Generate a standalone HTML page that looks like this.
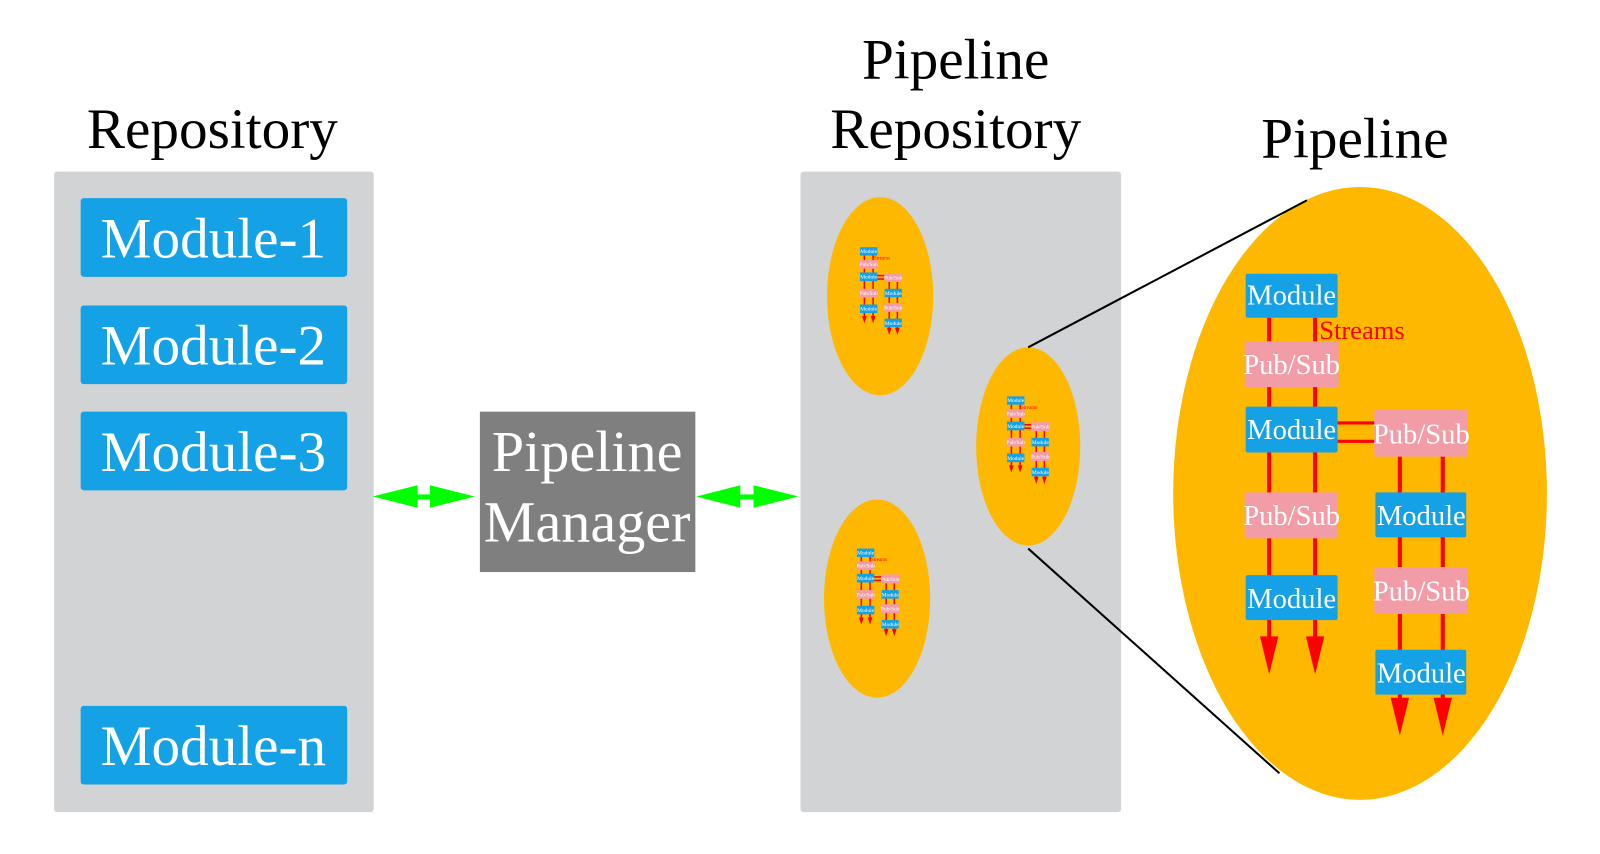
<!DOCTYPE html>
<html><head><meta charset="utf-8"><style>
html,body{margin:0;padding:0;background:#fff;width:1600px;height:854px;overflow:hidden}
svg{display:block}
text{font-family:"Liberation Serif",serif}
</style></head><body>
<svg width="1600" height="854" viewBox="0 0 1567 836" preserveAspectRatio="none" xmlns="http://www.w3.org/2000/svg">
<text x="208" y="145" font-size="56" text-anchor="middle" fill="#000">Repository</text>
<text x="936" y="77" font-size="56" text-anchor="middle" fill="#000">Pipeline</text>
<text x="936" y="145" font-size="56" text-anchor="middle" fill="#000">Repository</text>
<text x="1327" y="154" font-size="56" text-anchor="middle" fill="#000">Pipeline</text>

<rect x="53" y="168" width="313" height="627" rx="3" fill="#d1d3d4"/>
<g fill="#15a1e6">
<rect x="79" y="194" width="261" height="77" rx="3"/>
<rect x="79" y="299" width="261" height="77" rx="3"/>
<rect x="79" y="403" width="261" height="77" rx="3"/>
<rect x="79" y="691" width="261" height="77" rx="3"/>
</g>
<g fill="#fff" font-size="56" text-anchor="middle">
<text x="209" y="252">Module-1</text>
<text x="209" y="357">Module-2</text>
<text x="209" y="461">Module-3</text>
<text x="209" y="749">Module-n</text>
</g>

<rect x="470" y="403" width="211" height="157" fill="#7f7f7f"/>
<text x="575" y="461" font-size="57" fill="#fff" text-anchor="middle">Pipeline</text>
<text x="575" y="530" font-size="57" fill="#fff" text-anchor="middle">Manager</text>

<g fill="#00ff00">
<rect x="400" y="484" width="30" height="5"/>
<polygon points="365,486 409,475 409,497"/>
<polygon points="465,486 421,475 421,497"/>
<rect x="714" y="484" width="30" height="5"/>
<polygon points="682,486 725,475 725,497"/>
<polygon points="782,486 738,475 738,497"/>
</g>

<rect x="784" y="168" width="314" height="627" rx="3" fill="#d1d3d4"/>
<ellipse cx="862" cy="290" rx="52" ry="97" fill="#feb800"/>
<ellipse cx="859" cy="586" rx="52" ry="97" fill="#feb800"/>
<ellipse cx="1007" cy="437" rx="51" ry="97" fill="#feb800"/>
<ellipse cx="1332" cy="483" rx="183" ry="300" fill="#feb800"/>
<line x1="1007" y1="340" x2="1280" y2="196" stroke="#000" stroke-width="2"/>
<line x1="1007" y1="537" x2="1253" y2="757" stroke="#000" stroke-width="2"/>

<g transform="translate(1219,268)">
<g stroke="#ff0000" stroke-width="4">
<line x1="24" y1="43" x2="24" y2="360"/><line x1="69" y1="43" x2="69" y2="360"/>
<line x1="152" y1="179" x2="152" y2="420"/><line x1="194" y1="179" x2="194" y2="420"/>
<line x1="91" y1="146" x2="127" y2="146" stroke-width="3"/><line x1="91" y1="164" x2="127" y2="164" stroke-width="3"/>
</g>
<g fill="#ff0000">
<polygon points="15,355 33,355 24,392"/><polygon points="60,355 78,355 69,392"/>
<polygon points="143,415 161,415 152,452"/><polygon points="185,415 203,415 194,452"/>
</g>
<g fill="#15a1e6"><rect x="1" y="0" width="90" height="43" rx="2"/><rect x="1" y="130" width="90" height="45" rx="2"/><rect x="1" y="295" width="90" height="44" rx="2"/><rect x="128" y="214" width="89" height="44" rx="2"/><rect x="128" y="368" width="89" height="44" rx="2"/></g>
<g fill="#f29ca8"><rect x="0" y="66" width="92" height="45" rx="2"/><rect x="0" y="214" width="91" height="45" rx="2"/><rect x="127" y="133" width="91" height="46" rx="2"/><rect x="127" y="287" width="91" height="46" rx="2"/></g>
<text x="73" y="64" font-size="26" fill="#ff0000">Streams</text>
<g fill="#fff" font-size="28" text-anchor="middle">
<text x="46" y="30">Module</text><text x="46" y="98">Pub/Sub</text><text x="46" y="162">Module</text><text x="46" y="246">Pub/Sub</text><text x="46" y="327">Module</text>
<text x="173" y="166">Pub/Sub</text><text x="173" y="246">Module</text><text x="173" y="320">Pub/Sub</text><text x="173" y="400">Module</text>
</g>
</g>

<g transform="translate(842,242) scale(0.19)">
<g stroke="#ff0000" stroke-width="8"><line x1="24" y1="43" x2="24" y2="360"/><line x1="69" y1="43" x2="69" y2="360"/><line x1="152" y1="179" x2="152" y2="420"/><line x1="194" y1="179" x2="194" y2="420"/><line x1="91" y1="146" x2="127" y2="146"/><line x1="91" y1="164" x2="127" y2="164"/></g>
<g fill="#ff0000"><polygon points="12,355 36,355 24,392"/><polygon points="57,355 81,355 69,392"/><polygon points="140,415 164,415 152,452"/><polygon points="182,415 206,415 194,452"/></g>
<g fill="#15a1e6"><rect x="1" y="0" width="90" height="43"/><rect x="1" y="130" width="90" height="45"/><rect x="1" y="295" width="90" height="44"/><rect x="128" y="214" width="89" height="44"/><rect x="128" y="368" width="89" height="44"/></g>
<g fill="#f29ca8"><rect x="0" y="66" width="92" height="45"/><rect x="0" y="214" width="91" height="45"/><rect x="127" y="133" width="91" height="46"/><rect x="127" y="287" width="91" height="46"/></g>
<text x="73" y="64" font-size="26" fill="#ff0000">Streams</text>
<g fill="#fff" font-size="28" text-anchor="middle"><text x="46" y="30">Module</text><text x="46" y="98">Pub/Sub</text><text x="46" y="162">Module</text><text x="46" y="246">Pub/Sub</text><text x="46" y="327">Module</text><text x="173" y="166">Pub/Sub</text><text x="173" y="246">Module</text><text x="173" y="320">Pub/Sub</text><text x="173" y="400">Module</text></g>
</g>

<g transform="translate(839,537) scale(0.19)">
<g stroke="#ff0000" stroke-width="8"><line x1="24" y1="43" x2="24" y2="360"/><line x1="69" y1="43" x2="69" y2="360"/><line x1="152" y1="179" x2="152" y2="420"/><line x1="194" y1="179" x2="194" y2="420"/><line x1="91" y1="146" x2="127" y2="146"/><line x1="91" y1="164" x2="127" y2="164"/></g>
<g fill="#ff0000"><polygon points="12,355 36,355 24,392"/><polygon points="57,355 81,355 69,392"/><polygon points="140,415 164,415 152,452"/><polygon points="182,415 206,415 194,452"/></g>
<g fill="#15a1e6"><rect x="1" y="0" width="90" height="43"/><rect x="1" y="130" width="90" height="45"/><rect x="1" y="295" width="90" height="44"/><rect x="128" y="214" width="89" height="44"/><rect x="128" y="368" width="89" height="44"/></g>
<g fill="#f29ca8"><rect x="0" y="66" width="92" height="45"/><rect x="0" y="214" width="91" height="45"/><rect x="127" y="133" width="91" height="46"/><rect x="127" y="287" width="91" height="46"/></g>
<text x="73" y="64" font-size="26" fill="#ff0000">Streams</text>
<g fill="#fff" font-size="28" text-anchor="middle"><text x="46" y="30">Module</text><text x="46" y="98">Pub/Sub</text><text x="46" y="162">Module</text><text x="46" y="246">Pub/Sub</text><text x="46" y="327">Module</text><text x="173" y="166">Pub/Sub</text><text x="173" y="246">Module</text><text x="173" y="320">Pub/Sub</text><text x="173" y="400">Module</text></g>
</g>

<g transform="translate(986,388) scale(0.19)">
<g stroke="#ff0000" stroke-width="8"><line x1="24" y1="43" x2="24" y2="360"/><line x1="69" y1="43" x2="69" y2="360"/><line x1="152" y1="179" x2="152" y2="420"/><line x1="194" y1="179" x2="194" y2="420"/><line x1="91" y1="146" x2="127" y2="146"/><line x1="91" y1="164" x2="127" y2="164"/></g>
<g fill="#ff0000"><polygon points="12,355 36,355 24,392"/><polygon points="57,355 81,355 69,392"/><polygon points="140,415 164,415 152,452"/><polygon points="182,415 206,415 194,452"/></g>
<g fill="#15a1e6"><rect x="1" y="0" width="90" height="43"/><rect x="1" y="130" width="90" height="45"/><rect x="1" y="295" width="90" height="44"/><rect x="128" y="214" width="89" height="44"/><rect x="128" y="368" width="89" height="44"/></g>
<g fill="#f29ca8"><rect x="0" y="66" width="92" height="45"/><rect x="0" y="214" width="91" height="45"/><rect x="127" y="133" width="91" height="46"/><rect x="127" y="287" width="91" height="46"/></g>
<text x="73" y="64" font-size="26" fill="#ff0000">Streams</text>
<g fill="#fff" font-size="28" text-anchor="middle"><text x="46" y="30">Module</text><text x="46" y="98">Pub/Sub</text><text x="46" y="162">Module</text><text x="46" y="246">Pub/Sub</text><text x="46" y="327">Module</text><text x="173" y="166">Pub/Sub</text><text x="173" y="246">Module</text><text x="173" y="320">Pub/Sub</text><text x="173" y="400">Module</text></g>
</g>
</svg>
</body></html>
